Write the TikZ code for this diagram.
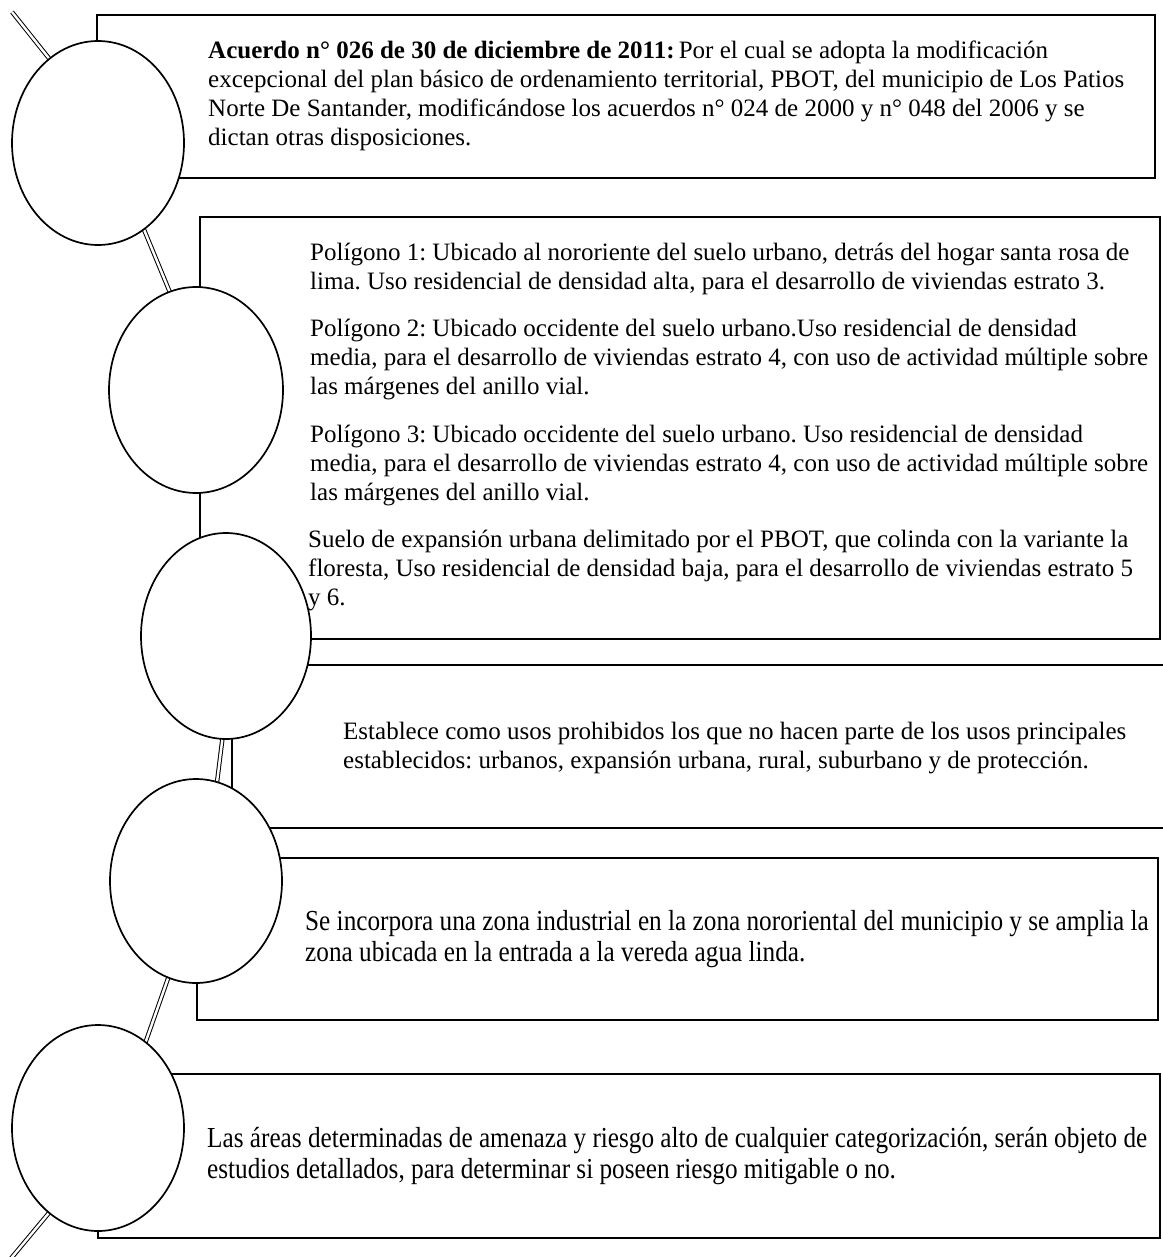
\documentclass[tikz,border=0pt]{standalone}
\usepackage{fontspec}
\setmainfont{Liberation Serif}
\newfontfamily\condfont[FakeStretch=0.87]{Liberation Serif}
\usetikzlibrary{shapes.geometric,backgrounds}
\frenchspacing
\begin{document}
\begin{tikzpicture}[x=1pt,y=-1pt,
  boxline/.style={draw=black, line width=1.8pt, fill=white},
  bubble/.style={ellipse, draw=black, line width=1.7pt, fill=white, inner sep=0pt, outer sep=0pt},
  spine/.style={draw=black, line width=1pt, double=white, double distance=2.4pt},
  txt/.style={anchor=north west, inner sep=0pt, align=left, font=\fontsize{25}{29}\selectfont},
  ctxt/.style={anchor=north west, inner sep=0pt, align=left, font=\condfont\fontsize{29}{31}\selectfont}]
\useasboundingbox (0,0) rectangle (1162,1257);

% circles
\node[bubble, minimum width=172pt, minimum height=204pt] (c1) at (98,143) {};
\node[bubble, minimum width=174pt, minimum height=206pt] (c2) at (196,390) {};
\node[bubble, minimum width=170pt, minimum height=206pt] (c3) at (226,636) {};
\node[bubble, minimum width=172pt, minimum height=204pt] (c4) at (196,881) {};
\node[bubble, minimum width=172pt, minimum height=206pt] (c5) at (98,1128) {};
\coordinate (t0) at (12,12);
\coordinate (b0) at (8,1262);

\begin{scope}[on background layer]
  \draw[boxline] (97,15) rectangle (1155,178);
  \draw[boxline] (200,217) rectangle (1160,639);
  \draw[boxline] (232,665) rectangle (1170,828);
  \draw[boxline] (197,858) rectangle (1158,1020);
  \draw[boxline] (98,1074) rectangle (1160,1238);
  \draw[spine] (t0) -- (c1.120);
  \draw[spine] (c1.-62) -- (c2.105);
  \draw[spine] (c3.-92) -- (c4.78);
  \draw[spine] (c4.-106) -- (c5.61);
  \draw[spine] (c5.-120) -- (b0);
\end{scope}

% texts
\node[txt] (t1) at (208,37.7) {\strut\textbf{Acuerdo n° 026 de 30 de diciembre de 2011:}\,Por el cual se adopta la modificación\\
excepcional del plan básico de ordenamiento territorial, PBOT, del municipio de Los Patios\\
Norte De Santander, modificándose los acuerdos n° 024 de 2000 y n° 048 del 2006 y se\\
dictan otras disposiciones.};

\node[txt] (t2a) at (310,239.7) {\strut Polígono 1: Ubicado al nororiente del suelo urbano, detrás del hogar santa rosa de\\
lima. Uso residencial de densidad alta, para el desarrollo de viviendas estrato 3.};
\node[txt] (t2b) at (310,315.7) {\strut Polígono 2: Ubicado occidente del suelo urbano.Uso residencial de densidad\\
media, para el desarrollo de viviendas estrato 4, con uso de actividad múltiple sobre\\
las márgenes del anillo vial.};
\node[txt] (t2c) at (310,421.7) {\strut Polígono 3: Ubicado occidente del suelo urbano. Uso residencial de densidad\\
media, para el desarrollo de viviendas estrato 4, con uso de actividad múltiple sobre\\
las márgenes del anillo vial.};
\node[txt] (t2d) at (308,526.7) {\strut Suelo de expansión urbana delimitado por el PBOT, que colinda con la variante la\\
floresta, Uso residencial de densidad baja, para el desarrollo de viviendas estrato 5\\
y 6.};

\node[txt] (t3) at (343,718.7) {\strut Establece como usos prohibidos los que no hacen parte de los usos principales\\
establecidos: urbanos, expansión urbana, rural, suburbano y de protección.};

\node[ctxt] (t4) at (305,908.3) {\strut Se incorpora una zona industrial en la zona nororiental del municipio y se amplia la\\
zona ubicada en la entrada a la vereda agua linda.};

\node[ctxt] (t5) at (207,1125.3) {\strut Las áreas determinadas de amenaza y riesgo alto de cualquier categorización, serán objeto de\\
estudios detallados, para determinar si poseen riesgo mitigable o no.};
\end{tikzpicture}
\end{document}
